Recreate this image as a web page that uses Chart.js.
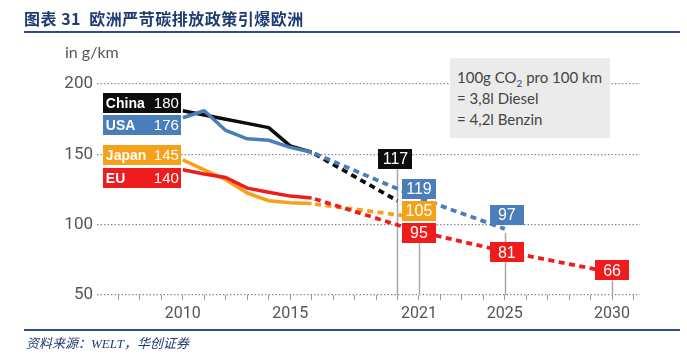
<!DOCTYPE html>
<html>
<head>
<meta charset="utf-8">
<script src="https://cdn.jsdelivr.net/npm/chart.js@4.4.1/dist/chart.umd.min.js"></script>
<style>
html,body{margin:0;padding:0;background:#fff;}
#wrap{position:relative;width:687px;height:357px;overflow:hidden;background:#fff;}
#c{position:absolute;left:0;top:0;}
.title{position:absolute;left:24px;top:6px;font-family:"Noto Sans CJK SC",sans-serif;font-weight:bold;font-size:16px;color:#1f3c72;white-space:nowrap;letter-spacing:0.5px;}
.rule{position:absolute;left:24px;width:656px;height:2px;background:#2b4c8c;}
.unit{position:absolute;left:65px;top:42px;font-family:Lato,sans-serif;font-size:16px;color:#555;white-space:nowrap;}
.note{position:absolute;left:450px;top:58px;width:160px;height:80px;background:#ebebeb;font-family:Lato,sans-serif;font-size:15px;line-height:21px;color:#444;box-sizing:border-box;padding:9px 0 0 7px;white-space:nowrap;}
.note sub{font-size:10px;line-height:0;}
.source{position:absolute;left:26px;top:333px;font-family:"Liberation Serif","Noto Sans CJK SC",serif;font-style:italic;font-size:13px;color:#1f3c72;white-space:nowrap;}
</style>
</head>
<body>
<div id="wrap">
  <canvas id="c" width="687" height="357"></canvas>
  <div class="title">图表 31&nbsp; 欧洲严苛碳排放政策引爆欧洲</div>
  <div class="rule" style="top:31px"></div>
  <div class="unit">in g/km</div>
  <div class="note">100g CO<sub>2</sub> pro 100 km<br>= 3,8l Diesel<br>= 4,2l Benzin</div>
  <div class="rule" style="top:329px"></div>
  <div class="source">资料来源：WELT，华创证券</div>
</div>
<script>
// ---- data ----
const seriesNames = ['China', 'USA', 'Japan', 'EU'];
const startLabels = ['180', '176', '145', '140'];

const histYears = [2010, 2011, 2012, 2013, 2014, 2015, 2016];
const chinaHist = [181, 178, 175, 172, 169, 156, 151.5];
const usaHist   = [176, 181, 167, 161, 160, 155, 151.5];
const japanHist = [146, 139, 132, 122.5, 117, 115.5, 115];
const euHist    = [139, 136, 133.5, 126, 123, 120.3, 119];

const chinaPlanYears = [2016, 2020];
const chinaPlan      = [151.5, 117];
const usaPlanYears   = [2016, 2021, 2025];
const usaPlan        = [151.5, 119, 97];
const japanPlanYears = [2016, 2021];
const japanPlan      = [115, 105];
const euPlanYears    = [2016, 2021, 2025, 2030];
const euPlan         = [119, 95, 81, 66];

const xTickYears = [2007,2008,2009,2010,2011,2012,2013,2014,2015,2016,2017,2018,2019,2020,2021,2022,2023,2024,2025,2026,2027,2028,2029,2030,2031];
const xLabelYears = [2010, 2015, 2021, 2025, 2030];
const yTicks = [50, 100, 150, 200];

// ---- styles ----
const colors = { China: '#0d0d0d', USA: '#4a7ebb', Japan: '#f7a11a', EU: '#ee1c1c' };
const startShift = { China: -8, USA: 7, Japan: -5, EU: 8 };
const planShift = { China: [[-2, -42]], USA: [[0, -9], [2, -14]], Japan: [[0, -7]], EU: [[0, 1], [2, 1], [0, -2]] };
const stems = [['China', 0, 0], ['EU', 0, 0], ['USA', 1, 8], ['EU', 2, 0]];

const hist = { China: chinaHist, USA: usaHist, Japan: japanHist, EU: euHist };
const plans = {
  China: [chinaPlanYears, chinaPlan], USA: [usaPlanYears, usaPlan],
  Japan: [japanPlanYears, japanPlan], EU: [euPlanYears, euPlan]
};
const pts = (xs, ys) => xs.map((x, i) => ({ x: x, y: ys[i] }));

const drawOrder = ['USA', 'China', 'EU', 'Japan'];
const datasets = [];
drawOrder.forEach(n => datasets.push({
  label: n, data: pts(histYears, hist[n]), borderColor: colors[n],
  borderWidth: 3.5, pointRadius: 0, borderJoinStyle: 'round', borderCapStyle: 'butt'
}));
drawOrder.forEach(n => datasets.push({
  label: n + ' plan', data: pts(plans[n][0], plans[n][1]), borderColor: colors[n],
  borderWidth: 3.8, pointRadius: 0, borderDash: [6, 4.5], borderDashOffset: 7, borderCapStyle: 'butt'
}));

function box(ctx, cx, cy, w, h, fill) {
  ctx.fillStyle = fill;
  ctx.fillRect(Math.round(cx - w / 2), Math.round(cy - h / 2), w, h);
}
function planBoxPos(chart, n, i) {
  const xs = chart.scales.x, ys = chart.scales.y;
  const yr = plans[n][0][i + 1], v = plans[n][1][i + 1];
  const s = planShift[n][i];
  return { px: xs.getPixelForValue(yr), cx: xs.getPixelForValue(yr) + s[0], cy: ys.getPixelForValue(v) + s[1], text: String(v) };
}

const labelPlugin = {
  id: 'labelBoxes',
  beforeDatasetsDraw(chart) {
    const ctx = chart.ctx;
    ctx.save();
    ctx.strokeStyle = '#a8a8a8';
    ctx.lineWidth = 1.5;
    stems.forEach(([n, i, gap]) => {
      const p = planBoxPos(chart, n, i);
      ctx.beginPath();
      ctx.moveTo(Math.round(p.px) + 0.5, p.cy + 10 + gap);
      ctx.lineTo(Math.round(p.px) + 0.5, chart.chartArea.bottom);
      ctx.stroke();
    });
    ctx.restore();
  },
  afterDatasetsDraw(chart) {
    const ctx = chart.ctx, xs = chart.scales.x, ys = chart.scales.y;
    ctx.save();
    ctx.textBaseline = 'middle';
    // start labels
    seriesNames.forEach((n, k) => {
      const right = xs.getPixelForValue(histYears[0]) - 2;
      const cy = ys.getPixelForValue(hist[n][0]) + startShift[n];
      const w = 78, h = 20;
      ctx.fillStyle = colors[n];
      ctx.fillRect(Math.round(right - w), Math.round(cy - h / 2), w, h);
      ctx.fillStyle = '#fff';
      ctx.font = 'bold 14px "Liberation Sans", Arial, sans-serif';
      ctx.textAlign = 'left';
      ctx.fillText(n, right - w + 3, cy + 1);
      ctx.font = '15px "Liberation Sans", Arial, sans-serif';
      ctx.textAlign = 'right';
      ctx.fillText(startLabels[k], right - 2, cy + 1);
    });
    // target labels
    seriesNames.forEach(n => {
      planShift[n].forEach((s, i) => {
        const p = planBoxPos(chart, n, i);
        box(ctx, p.cx, p.cy, 34, 20, colors[n]);
        ctx.fillStyle = '#fff';
        ctx.font = '16px "Liberation Sans", Arial, sans-serif';
        ctx.textAlign = 'center';
        ctx.fillText(p.text, p.cx, p.cy + 1);
      });
    });
    ctx.restore();
  }
};

new Chart(document.getElementById('c'), {
  type: 'line',
  data: { datasets: datasets },
  plugins: [labelPlugin],
  options: {
    responsive: false,
    animation: false,
    events: [],
    layout: { padding: { left: 0, top: 84, right: 47, bottom: 32 } },
    plugins: { legend: { display: false }, tooltip: { enabled: false } },
    scales: {
      x: {
        type: 'linear', min: 2006, max: 2031.3,
        afterBuildTicks: s => { s.ticks = xTickYears.map(v => ({ value: v })); },
        afterFit: s => { s.height = 30; },
        ticks: {
          autoSkip: false, maxRotation: 0, padding: 4, color: '#555',
          font: { family: 'Roboto, "Liberation Sans", sans-serif', size: 16 },
          callback: v => xLabelYears.includes(v) ? String(v) : ''
        },
        grid: { drawOnChartArea: false, drawTicks: true, tickLength: 5, color: '#999', lineWidth: 1 },
        border: { display: false }
      },
      y: {
        min: 50, max: 200,
        afterBuildTicks: s => { s.ticks = yTicks.map(v => ({ value: v })); },
        afterFit: s => { s.width = 97; },
        ticks: {
          padding: 4, color: '#555',
          font: { family: 'Roboto, "Liberation Sans", sans-serif', size: 17 }
        },
        grid: { drawTicks: false, color: '#8c8c8c', lineWidth: 1.2 },
        border: { display: false, dash: [1.5, 2] }
      }
    }
  }
});
</script>
</body>
</html>
